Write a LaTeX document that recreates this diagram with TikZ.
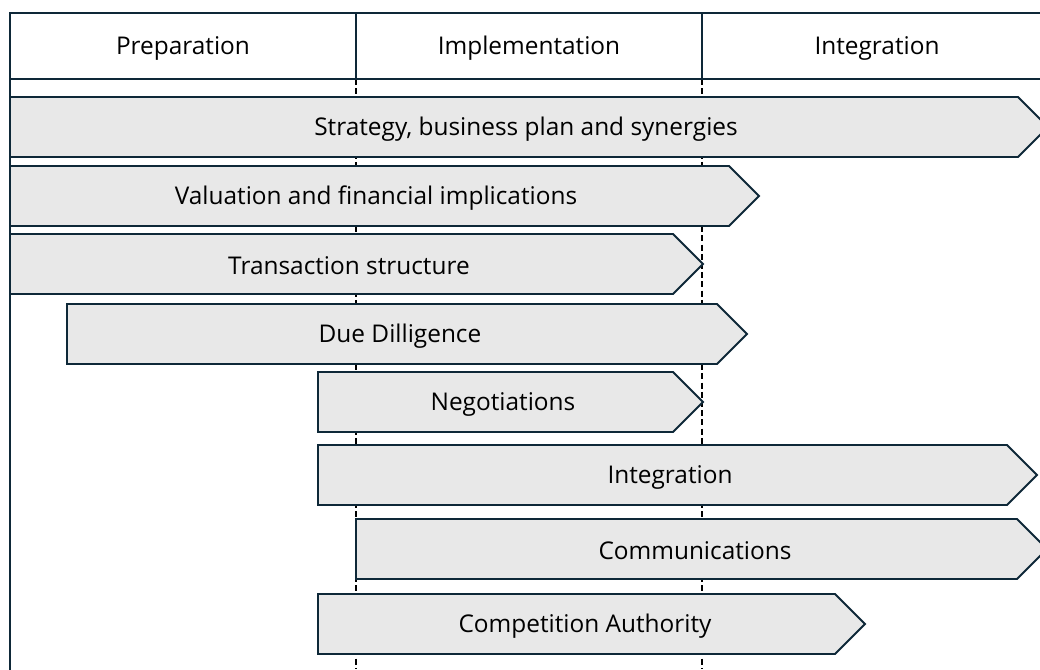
\documentclass[tikz,border=0pt]{standalone}
\usepackage{fontspec}
\setmainfont{Open Sans}
\usepackage{tikz}

\definecolor{framenavy}{RGB}{14,40,56}
\definecolor{barfill}{RGB}{232,232,232}

\begin{document}
\begin{tikzpicture}[x=0.75pt,y=-0.75pt]
\tikzset{
    frame/.style={draw=framenavy,line width=1.4pt},
    phasebar/.style={draw=framenavy,fill=barfill,line width=1.4pt,line join=miter},
    guide/.style={draw=black,line width=1.1pt,dash pattern=on 4.5pt off 2.4pt},
    bartext/.style={font=\fontsize{18.3}{21}\selectfont,text=black}
}
\useasboundingbox (0,0) rectangle (1040,669);
\clip (0,0) rectangle (1040,669);

\draw[guide] (356,79) -- (356,669);
\draw[guide] (702,79) -- (702,669);

\draw[frame] (1060,13) -- (10,13) -- (10,680);
\draw[frame] (10,79) -- (1060,79);
\draw[frame] (356,13) -- (356,79);
\draw[frame] (702,13) -- (702,79);

\node[bartext] (prep) at (183,48) {Preparation};
\node[bartext] (impl) at (529,48) {Implementation};
\node[bartext] (integ) at (877,48) {Integration};

\draw[phasebar] (10,97) -- (1018,97) -- (1048,127) -- (1018,157) -- (10,157) -- cycle;
\node[bartext] (strategy) at (526,129) {Strategy, business plan and synergies};

\draw[phasebar] (10,166) -- (729,166) -- (759,196) -- (729,226) -- (10,226) -- cycle;
\node[bartext] (valuation) at (376,198) {Valuation and financial implications};

\draw[phasebar] (10,234) -- (673,234) -- (703,264) -- (673,294) -- (10,294) -- cycle;
\node[bartext] (transaction) at (349,266) {Transaction structure};

\draw[phasebar] (67,304) -- (717,304) -- (747,334) -- (717,364) -- (67,364) -- cycle;
\node[bartext] (duedil) at (400,336) {Due Dilligence};

\draw[phasebar] (318,372) -- (673,372) -- (703,402) -- (673,432) -- (318,432) -- cycle;
\node[bartext] (negot) at (503,404) {Negotiations};

\draw[phasebar] (318,445) -- (1007,445) -- (1037,475) -- (1007,505) -- (318,505) -- cycle;
\node[bartext] (integr) at (670,477) {Integration};

\draw[phasebar] (356,519) -- (1017,519) -- (1047,549) -- (1017,579) -- (356,579) -- cycle;
\node[bartext] (comms) at (695,551) {Communications};

\draw[phasebar] (318,594) -- (835,594) -- (865,624) -- (835,654) -- (318,654) -- cycle;
\node[bartext] (compet) at (585,626) {Competition Authority};
\end{tikzpicture}
\end{document}
